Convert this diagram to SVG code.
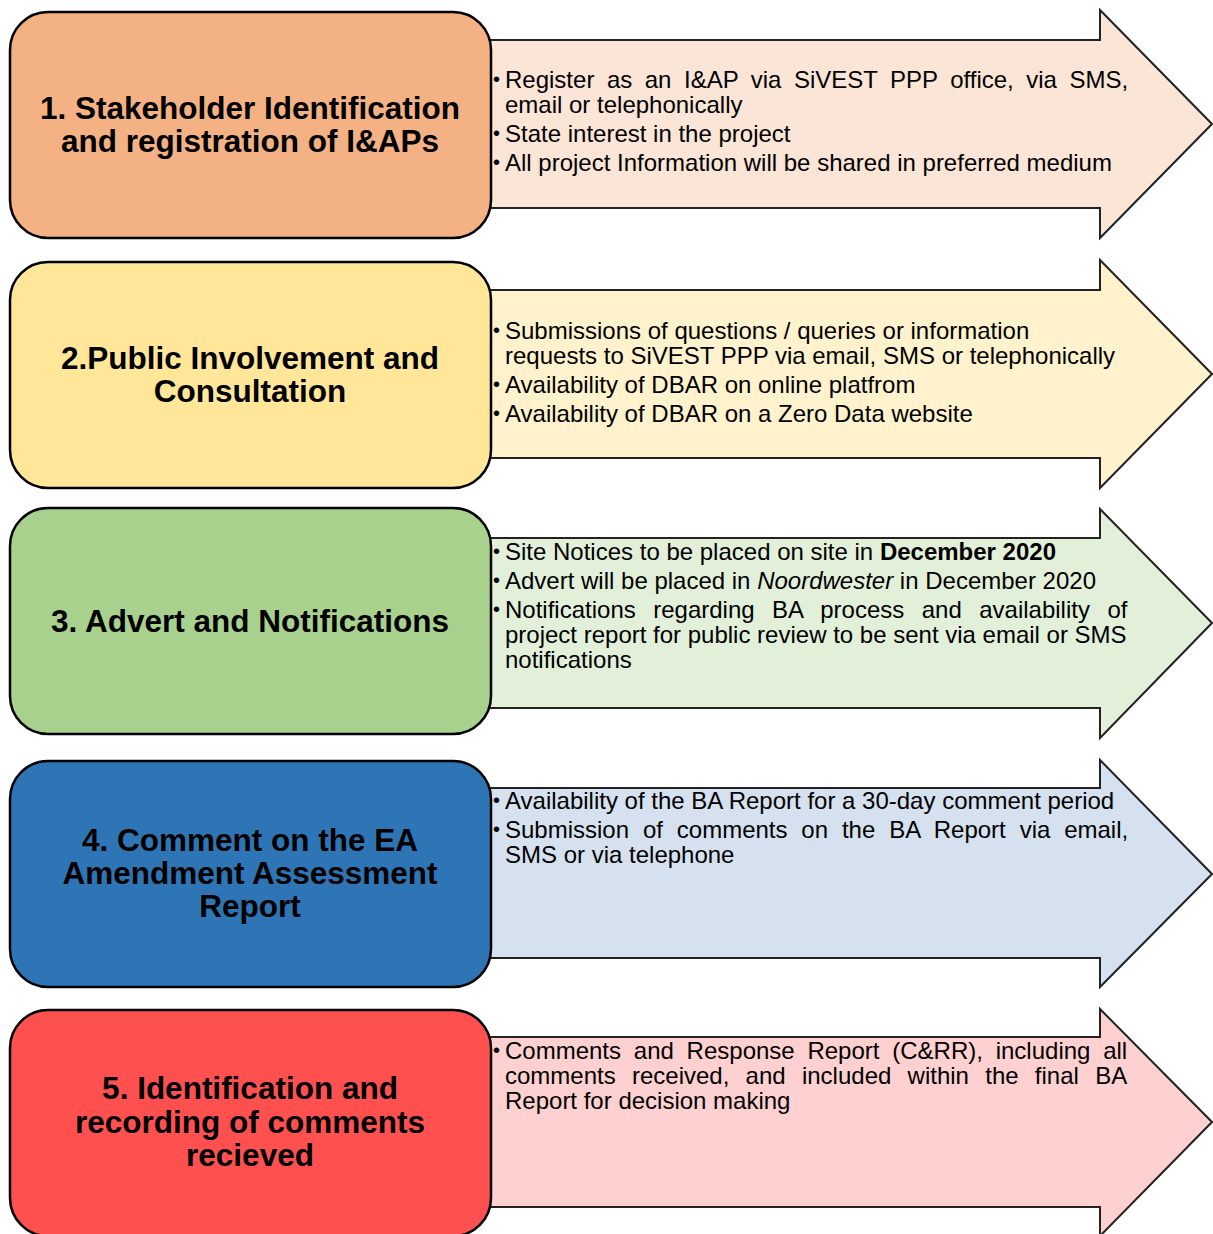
<svg xmlns="http://www.w3.org/2000/svg" width="1213" height="1234" viewBox="0 0 1213 1234">
<style>
.box{stroke:#000;stroke-width:2.5}
.arr{stroke:#222;stroke-width:2}
.h{font-family:"Liberation Sans",Arial,sans-serif;font-weight:bold;font-size:31.5px;text-anchor:middle;fill:#000}
.t{font-family:"Liberation Sans",Arial,sans-serif;font-size:24px;fill:#000}
.bl{font-family:"Liberation Sans",Arial,sans-serif;font-size:20px;fill:#000}
</style>
<rect width="1213" height="1234" fill="#fff"/>
<g id="connectors"></g>

<g id="step1">
<polygon class="arr" fill="#FBE5D6" points="480,40 1100,40 1100,10 1212,124 1100,238 1100,208 480,208"/>
<rect class="box" fill="#F4B183" x="10" y="12" width="481" height="226" rx="38"/>
<text class="h" x="250" y="119">1. Stakeholder Identification</text>
<text class="h" x="250" y="152">and registration of I&amp;APs</text>
<text class="bl" x="493" y="86">•</text>
<text class="t" x="505" y="88" word-spacing="5.85">Register as an I&amp;AP via SiVEST PPP office, via SMS,</text>
<text class="t" x="505" y="113">email or telephonically</text>
<text class="bl" x="493" y="140">•</text>
<text class="t" x="505" y="142">State interest in the project</text>
<text class="bl" x="493" y="169">•</text>
<text class="t" x="505" y="171">All project Information will be shared in preferred medium</text>
</g>

<g id="step2">
<polygon class="arr" fill="#FFF2CC" points="480,290 1100,290 1100,260 1212,374 1100,488 1100,458 480,458"/>
<rect class="box" fill="#FFE699" x="10" y="262" width="481" height="226" rx="38"/>
<text class="h" x="250" y="369">2.Public Involvement and</text>
<text class="h" x="250" y="402">Consultation</text>
<text class="bl" x="493" y="337">•</text>
<text class="t" x="505" y="339">Submissions of questions / queries or information</text>
<text class="t" x="505" y="364">requests to SiVEST PPP via email, SMS or telephonically</text>
<text class="bl" x="493" y="391">•</text>
<text class="t" x="505" y="393">Availability of DBAR on online platfrom</text>
<text class="bl" x="493" y="420">•</text>
<text class="t" x="505" y="422">Availability of DBAR on a Zero Data website</text>
</g>

<g id="step3">
<polygon class="arr" fill="#E2F0D9" points="480,538 1100,538 1100,509 1212,623 1100,738 1100,708 480,708"/>
<rect class="box" fill="#A9D18E" x="10" y="508" width="481" height="226" rx="38"/>
<text class="h" x="250" y="632">3. Advert and Notifications</text>
<text class="bl" x="493" y="558">•</text>
<text class="t" x="505" y="560">Site Notices to be placed on site in <tspan font-weight="bold">December 2020</tspan></text>
<text class="bl" x="493" y="587">•</text>
<text class="t" x="505" y="589">Advert will be placed in <tspan font-style="italic">Noordwester</tspan> in December 2020</text>
<text class="bl" x="493" y="616">•</text>
<text class="t" x="505" y="618" word-spacing="10.8">Notifications regarding BA process and availability of</text>
<text class="t" x="505" y="643">project report for public review to be sent via email or SMS</text>
<text class="t" x="505" y="668">notifications</text>
</g>

<g id="step4">
<polygon class="arr" fill="#D6E1EF" points="480,788 1100,788 1100,760 1212,874 1100,987 1100,958 480,958"/>
<rect class="box" fill="#2E75B6" x="10" y="761" width="481" height="226" rx="38"/>
<text class="h" x="250" y="851">4. Comment on the EA</text>
<text class="h" x="250" y="884">Amendment Assessment</text>
<text class="h" x="250" y="917">Report</text>
<text class="bl" x="493" y="807">•</text>
<text class="t" x="505" y="809">Availability of the BA Report for a 30-day comment period</text>
<text class="bl" x="493" y="836">•</text>
<text class="t" x="505" y="838" word-spacing="7.2">Submission of comments on the BA Report via email,</text>
<text class="t" x="505" y="863">SMS or via telephone</text>
</g>

<g id="step5">
<polygon class="arr" fill="#FFD0D0" points="480,1037 1100,1037 1100,1009 1212,1122 1100,1236 1100,1207 480,1207"/>
<rect class="box" fill="#FF5050" x="10" y="1010" width="481" height="226" rx="38"/>
<text class="h" x="250" y="1099">5. Identification and</text>
<text class="h" x="250" y="1133">recording of comments</text>
<text class="h" x="250" y="1166">recieved</text>
<text class="bl" x="493" y="1057">•</text>
<text class="t" x="505" y="1059" word-spacing="6.1">Comments and Response Report (C&amp;RR), including all</text>
<text class="t" x="505" y="1084" word-spacing="9.6">comments received, and included within the final BA</text>
<text class="t" x="505" y="1109">Report for decision making</text>
</g>
</svg>
